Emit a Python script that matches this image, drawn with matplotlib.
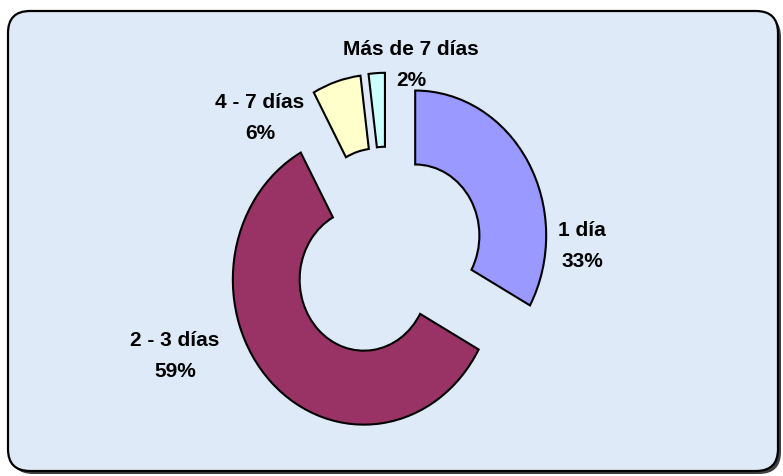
import matplotlib
matplotlib.use('Agg')
import matplotlib.pyplot as plt
from matplotlib.patches import FancyBboxPatch
from matplotlib.transforms import IdentityTransform

categories = ['1 día', '2 - 3 días', '4 - 7 días', 'Más de 7 días']
shares = [33, 59, 6, 2]
colors = ['#9999FF', '#993366', '#FFFFCC', '#CCFFFF']

W, H = 783, 477

fig = plt.figure(figsize=(W / 100, H / 100), dpi=100)
fig.patch.set_facecolor('white')

# rounded frame with a small shadow (pixel coords, origin bottom-left)
shadow = FancyBboxPatch((11, 2), 770, 459, boxstyle='round,pad=0,rounding_size=22',
                        transform=IdentityTransform(), facecolor='#404040',
                        edgecolor='none', zorder=0)
frame = FancyBboxPatch((8, 5), 770, 460, boxstyle='round,pad=0,rounding_size=22',
                       transform=IdentityTransform(), facecolor='#DEEAF7',
                       edgecolor='black', linewidth=1.6, zorder=1)
fig.patches.extend([shadow, frame])

ax = fig.add_axes([0, 0, 1, 1])
ax.set_zorder(3)
ax.set_facecolor('none')
ax.pie(shares, colors=colors, startangle=90, counterclock=False,
       explode=[0.25] * len(shares),
       wedgeprops=dict(width=0.51, edgecolor='black', linewidth=1.5))
ax.set_aspect('auto')

# pixel scale of the unit circle and the pie centre
rx, ry = 131, 145
cx, cy = 387, 255
ax.set_xlim(-cx / rx, (W - cx) / rx)
ax.set_ylim(-(H - cy) / ry, cy / ry)
ax.axis('off')

# label centres in pixels from top-left
label_pos = [(582, 246), (175, 356), (260, 118), (411, 65)]
for name, val, (px, py) in zip(categories, shares, label_pos):
    fig.text(px / W, 1 - py / H, f'{name}\n{val}%', ha='center', va='center',
             fontsize=15, fontweight='bold', family='Liberation Sans',
             linespacing=1.85, zorder=5)

fig.savefig('out.png', dpi=100)
